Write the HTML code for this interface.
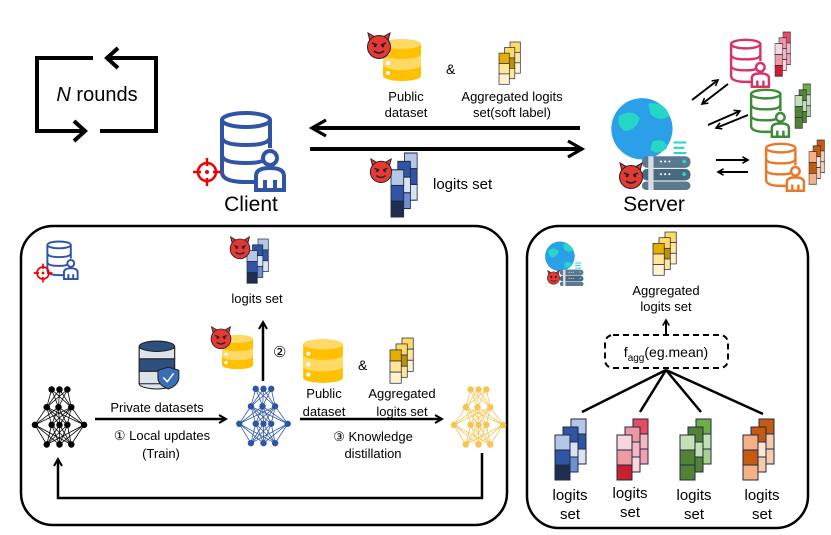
<!DOCTYPE html>
<html><head><meta charset="utf-8"><style>
html,body{margin:0;padding:0;background:#fff}
svg{display:block}
text{font-family:"Liberation Sans",Arial,sans-serif;fill:#000}
.ls{stroke:#1f2a44;stroke-width:1}
</style></head><body>
<svg width="831" height="535" viewBox="0 0 831 535" xmlns="http://www.w3.org/2000/svg">
<defs>
<marker id="ah" viewBox="0 0 10 10" refX="8" refY="5" markerWidth="4" markerHeight="4" orient="auto-start-reverse">
<path d="M1,1 L8,5 L1,9" fill="none" stroke="#000" stroke-width="2"/></marker>
<marker id="ahb" viewBox="0 0 10 10" refX="8" refY="5" markerWidth="5" markerHeight="5" orient="auto-start-reverse">
<path d="M1,1 L8,5 L1,9" fill="none" stroke="#000" stroke-width="1.6"/></marker>
<symbol id="stk" viewBox="0 0 32 62" preserveAspectRatio="none" overflow="visible">
<g class="ls">
<rect x="16" y="0" width="15" height="15" style="fill:var(--b1)"/><rect x="16" y="15" width="15" height="15" style="fill:var(--b2)"/><rect x="16" y="30" width="15" height="15" style="fill:var(--b3)"/>
<rect x="8" y="8" width="15" height="15" style="fill:var(--m1)"/><rect x="8" y="23" width="15" height="15" style="fill:var(--m2)"/><rect x="8" y="38" width="15" height="15" style="fill:var(--m3)"/>
<rect x="0" y="16" width="15" height="15" style="fill:var(--c1)"/><rect x="0" y="31" width="15" height="15" style="fill:var(--c2)"/><rect x="0" y="46" width="15" height="15" style="fill:var(--c3)"/>
</g></symbol>
<symbol id="devil" viewBox="0 0 28 28">
<path d="M5,9 L3,1 L10,5 Z M23,9 L25,1 L18,5 Z" fill="#e53935" stroke="#222" stroke-width="1"/>
<circle cx="14" cy="15" r="11.5" fill="#e53935" stroke="#222" stroke-width="1"/>
<path d="M7,11 L12,13 M21,11 L16,13" stroke="#222" stroke-width="1.5"/>
<circle cx="10" cy="14" r="1.3" fill="#222"/><circle cx="18" cy="14" r="1.3" fill="#222"/>
<path d="M9,19 Q14,23 19,19" fill="none" stroke="#222" stroke-width="1.5"/>
</symbol>
<symbol id="gdb" viewBox="0 0 40 44">
<rect x="1" y="6" width="38" height="32" fill="#ffc000"/>
<ellipse cx="20" cy="38" rx="19" ry="5" fill="#ffc000"/>
<ellipse cx="20" cy="27" rx="19" ry="5" fill="#ffd966"/>
<rect x="1" y="16" width="38" height="11" fill="#ffd966"/>
<ellipse cx="20" cy="16" rx="19" ry="5" fill="#ffc000"/>
<ellipse cx="20" cy="6" rx="19" ry="5" fill="#ffd966"/>
<circle cx="6" cy="15" r="2" fill="#fff"/><circle cx="6" cy="25" r="2" fill="#fff"/><circle cx="6" cy="35" r="2" fill="#fff"/>
</symbol>
<symbol id="cdb" viewBox="0 0 70 82">
<g fill="#fff" stroke="currentColor" stroke-width="4">
<path d="M4,10 L4,62 Q4,72 28,72 L40,72"/>
<path d="M52,10 L52,38"/>
<ellipse cx="28" cy="10" rx="24" ry="7"/>
<path d="M4,27 Q4,35 28,35 Q52,35 52,27"/>
<path d="M4,45 Q4,53 28,53 Q40,53 44,51"/>
<circle cx="52" cy="48" r="7"/>
<path d="M38,80 L38,66 Q38,58 52,58 Q66,58 66,66 L66,80 Z"/>
<path d="M47,80 L47,70 M57,80 L57,70"/>
</g></symbol>
<symbol id="tgt" viewBox="0 0 30 30">
<g stroke="#e00" stroke-width="2.5" fill="none"><circle cx="15" cy="15" r="9"/><path d="M15,1 L15,9 M15,21 L15,29 M1,15 L9,15 M21,15 L29,15"/></g>
<circle cx="15" cy="15" r="2" fill="#e00"/></symbol>
<symbol id="srv" viewBox="0 0 80 90">
<circle cx="30" cy="32" r="29" fill="#2ba0e8"/>
<path d="M8,20 Q20,12 28,22 Q24,34 14,34 Q6,30 8,20Z M36,8 Q52,6 56,20 Q46,26 38,18Z M40,44 Q52,40 54,50 Q46,58 38,52Z" fill="#26d6c6"/>
<path d="M60,45 h12 M60,50 h10 M60,55 h12" stroke="#26d6c6" stroke-width="2"/>
<rect x="30" y="58" width="46" height="11" rx="5" fill="#5a7890"/>
<rect x="30" y="70" width="46" height="11" rx="5" fill="#4a687f"/>
<rect x="30" y="82" width="46" height="8" rx="4" fill="#5a7890"/>
<rect x="36" y="58" width="5" height="32" fill="#d8dde2"/>
<g fill="#fff"><circle cx="48" cy="63" r="1"/><circle cx="52" cy="63" r="1"/><circle cx="56" cy="63" r="1"/><circle cx="48" cy="75" r="1"/><circle cx="52" cy="75" r="1"/><circle cx="56" cy="75" r="1"/></g>
<g fill="#26d6c6"><circle cx="70" cy="63" r="1.8"/><circle cx="70" cy="75" r="1.8"/></g>
</symbol>
<symbol id="pdb" viewBox="0 0 40 48">
<g stroke="#222" stroke-width="1">
<rect x="1" y="6" width="34" height="36" fill="#2f4f80"/>
<ellipse cx="18" cy="42" rx="17" ry="5" fill="#dde3ea"/>
<rect x="1" y="30" width="34" height="12" fill="#dde3ea"/>
<rect x="1" y="18" width="34" height="12" fill="#2f4f80"/>
<rect x="1" y="8" width="34" height="10" fill="#dde3ea"/>
<ellipse cx="18" cy="6" rx="17" ry="5" fill="#2f4f80"/>
<path d="M29,26 L39,29 L39,37 Q38,44 29,47 Q20,44 19,37 L19,29Z" fill="#3a6fb8"/>
</g>
<path d="M24,36 L28,40 L34,32" fill="none" stroke="#fff" stroke-width="1.5"/>
</symbol>
</defs>

<!-- N rounds -->
<g fill="none" stroke="#000" stroke-width="4">
<path d="M93,58 L37,58 L37,131 L84,131"/><path d="M74,121 L85,131 L74,141"/>
<path d="M107,58 L156,58 L156,131 L100,131"/><path d="M118,48 L107,58 L118,68"/>
</g>
<text x="97" y="101" font-size="20" text-anchor="middle"><tspan font-style="italic">N</tspan> rounds</text>

<!-- Client -->
<use href="#cdb" x="218" y="110" width="70" height="82" style="color:#2f55a4"/>
<use href="#tgt" x="192" y="157" width="30" height="30"/>
<text x="251" y="211" font-size="21" text-anchor="middle">Client</text>

<!-- main arrows -->
<line x1="580" y1="128" x2="312" y2="128" stroke="#000" stroke-width="4" marker-end="url(#ahb)"/>
<line x1="310" y1="149" x2="582" y2="149" stroke="#000" stroke-width="4" marker-end="url(#ahb)"/>

<use href="#gdb" x="382" y="38" width="40" height="44"/>
<use href="#devil" x="365" y="32" width="28" height="28"/>
<text x="446" y="74" font-size="14">&amp;</text>
<use href="#stk" x="499" y="42" width="22" height="43" style="--b1:#ffd966;--b2:#ffe699;--b3:#fff2cc;--m1:#ffd966;--m2:#bf9000;--m3:#ffe699;--c1:#e6ac00;--c2:#ffe699;--c3:#fff2cc"/>
<text x="406" y="101" font-size="13" text-anchor="middle">Public</text>
<text x="406" y="117" font-size="13" text-anchor="middle">dataset</text>
<text x="512" y="101" font-size="13" text-anchor="middle">Aggregated logits</text>
<text x="512" y="117" font-size="13" text-anchor="middle">set(soft label)</text>

<use href="#stk" x="391" y="153" width="27" height="65" style="--b1:#b4c7e7;--b2:#2f55a4;--b3:#dae3f3;--m1:#2f55a4;--m2:#dae3f3;--m3:#6f8fcf;--c1:#b4c7e7;--c2:#2f55a4;--c3:#1f2d4f"/>
<use href="#devil" x="368" y="158" width="26" height="26"/>
<text x="433" y="189" font-size="15">logits set</text>

<!-- Server -->
<use href="#srv" x="605" y="95" width="95" height="95"/>
<use href="#devil" x="617" y="162" width="28" height="28"/>
<text x="654" y="211" font-size="21" text-anchor="middle">Server</text>

<!-- right clients -->
<use href="#cdb" x="728" y="38" width="44" height="50" style="color:#d6336c"/>
<use href="#stk" x="775" y="32" width="16" height="45" style="--b1:#e84c61;--b2:#f4b6c0;--b3:#f0a0ae;--m1:#ef97a5;--m2:#f4b6c0;--m3:#f8d7dc;--c1:#f8d7dc;--c2:#ee9aa5;--c3:#c8202f"/>
<use href="#cdb" x="748" y="88" width="44" height="50" style="color:#3d8b37"/>
<use href="#stk" x="795" y="84" width="16" height="45" style="--b1:#70ad47;--b2:#c5e0b4;--b3:#a9d18e;--m1:#548235;--m2:#c5e0b4;--m3:#548235;--c1:#c5e0b4;--c2:#548235;--c3:#548235"/>
<use href="#cdb" x="763" y="142" width="44" height="50" style="color:#e8782a"/>
<use href="#stk" x="809" y="140" width="16" height="45" style="--b1:#c55a11;--b2:#f8cbad;--b3:#f8cbad;--m1:#c55a11;--m2:#fbe5d6;--m3:#f8cbad;--c1:#f4b183;--c2:#c55a11;--c3:#f4b183"/>
<g stroke="#000" stroke-width="2" marker-end="url(#ah)">
<line x1="692" y1="100" x2="718" y2="80"/><line x1="728" y1="84" x2="702" y2="104"/>
<line x1="708" y1="125" x2="740" y2="111"/><line x1="748" y1="115" x2="716" y2="128"/>
<line x1="716" y1="160" x2="748" y2="160"/><line x1="748" y1="172" x2="718" y2="172"/>
</g>

<!-- left panel -->
<rect x="21" y="226" width="486" height="299" rx="32" fill="none" stroke="#000" stroke-width="2.5"/>
<use href="#cdb" x="45" y="240" width="35" height="40" style="color:#2f55a4"/>
<use href="#tgt" x="33" y="263" width="20" height="20"/>
<use href="#stk" x="247" y="239" width="22" height="45" style="--b1:#b4c7e7;--b2:#2f55a4;--b3:#dae3f3;--m1:#2f55a4;--m2:#dae3f3;--m3:#6f8fcf;--c1:#b4c7e7;--c2:#2f55a4;--c3:#1f2d4f"/>
<use href="#devil" x="228" y="236" width="24" height="24"/>
<text x="257" y="303" font-size="13" text-anchor="middle">logits set</text>
<line x1="263" y1="381" x2="263" y2="322" stroke="#000" stroke-width="2.5" marker-end="url(#ah)"/>
<text x="273" y="357" font-size="15">②</text>
<use href="#gdb" x="221" y="334" width="33" height="36"/>
<use href="#devil" x="209" y="326" width="24" height="24"/>
<use href="#pdb" x="138" y="340" width="42" height="50"/>

<use href="#nn" x="32" y="385" width="55" height="65" style="color:#000"/>
<use href="#nn" x="236" y="385" width="55" height="63" style="color:#2f55a4"/>
<use href="#nn" x="451" y="385" width="55" height="65" style="color:#f6c554"/>

<line x1="95" y1="419" x2="226" y2="419" stroke="#000" stroke-width="2.5" marker-end="url(#ah)"/>
<text x="157" y="412" font-size="13" text-anchor="middle">Private datasets</text>
<text x="162" y="440" font-size="13" text-anchor="middle">① Local updates</text>
<text x="161" y="458" font-size="13" text-anchor="middle">(Train)</text>

<use href="#gdb" x="300" y="338" width="46" height="46"/>
<text x="358" y="370" font-size="14">&amp;</text>
<use href="#stk" x="390" y="338" width="24" height="46" style="--b1:#ffd966;--b2:#ffe699;--b3:#fff2cc;--m1:#ffd966;--m2:#bf9000;--m3:#ffe699;--c1:#e6ac00;--c2:#ffe699;--c3:#fff2cc"/>
<text x="324" y="398" font-size="13" text-anchor="middle">Public</text>
<text x="324" y="416" font-size="13" text-anchor="middle">dataset</text>
<text x="402" y="398" font-size="13" text-anchor="middle">Aggregated</text>
<text x="402" y="416" font-size="13" text-anchor="middle">logits set</text>
<line x1="300" y1="419" x2="442" y2="419" stroke="#000" stroke-width="2.5" marker-end="url(#ah)"/>
<text x="373" y="441" font-size="13" text-anchor="middle">③ Knowledge</text>
<text x="373" y="458" font-size="13" text-anchor="middle">distillation</text>
<path d="M482,453 L482,498 L58,498 L58,459" fill="none" stroke="#000" stroke-width="2.5" marker-end="url(#ah)"/>

<!-- right panel -->
<rect x="527" y="226" width="281" height="302" rx="32" fill="none" stroke="#000" stroke-width="2.5"/>
<use href="#srv" x="542" y="240" width="46" height="46"/>
<use href="#devil" x="546" y="270" width="15" height="15"/>
<use href="#stk" x="653" y="232" width="24" height="44" style="--b1:#ffd966;--b2:#ffe699;--b3:#fff2cc;--m1:#ffd966;--m2:#bf9000;--m3:#ffe699;--c1:#e6ac00;--c2:#ffe699;--c3:#fff2cc"/>
<text x="666" y="295" font-size="13" text-anchor="middle">Aggregated</text>
<text x="666" y="311" font-size="13" text-anchor="middle">logits set</text>
<line x1="666" y1="334" x2="666" y2="320" stroke="#000" stroke-width="2" marker-end="url(#ah)"/>
<rect x="605" y="335" width="123" height="33" rx="8" fill="none" stroke="#000" stroke-width="2" stroke-dasharray="6,4"/>
<text x="666" y="357" font-size="14" text-anchor="middle">f<tspan font-size="10" dy="4">agg</tspan><tspan dy="-4">(eg.mean)</tspan></text>
<g stroke="#000" stroke-width="2.5">
<line x1="666" y1="370" x2="582" y2="412"/><line x1="666" y1="370" x2="640" y2="412"/>
<line x1="666" y1="370" x2="701" y2="412"/><line x1="666" y1="370" x2="763" y2="414"/>
</g>
<use href="#stk" x="555" y="419" width="32" height="62" style="--b1:#b4c7e7;--b2:#2f55a4;--b3:#dae3f3;--m1:#2f55a4;--m2:#dae3f3;--m3:#6f8fcf;--c1:#b4c7e7;--c2:#2f55a4;--c3:#1f2d4f"/>
<use href="#stk" x="617" y="419" width="32" height="62" style="--b1:#e84c61;--b2:#f4b6c0;--b3:#f0a0ae;--m1:#ef97a5;--m2:#f4b6c0;--m3:#f8d7dc;--c1:#f8d7dc;--c2:#ee9aa5;--c3:#c8202f"/>
<use href="#stk" x="680" y="419" width="32" height="62" style="--b1:#70ad47;--b2:#c5e0b4;--b3:#a9d18e;--m1:#548235;--m2:#c5e0b4;--m3:#548235;--c1:#c5e0b4;--c2:#548235;--c3:#548235"/>
<use href="#stk" x="743" y="419" width="32" height="62" style="--b1:#c55a11;--b2:#f8cbad;--b3:#f8cbad;--m1:#c55a11;--m2:#fbe5d6;--m3:#f8cbad;--c1:#f4b183;--c2:#c55a11;--c3:#f4b183"/>
<g font-size="15" text-anchor="middle">
<text x="570" y="500">logits</text><text x="570" y="519">set</text>
<text x="630" y="498">logits</text><text x="630" y="517">set</text>
<text x="694" y="500">logits</text><text x="694" y="519">set</text>
<text x="762" y="500">logits</text><text x="762" y="519">set</text>
</g>
</svg>
<script>
(function(){
var ns="http://www.w3.org/2000/svg";
var rows=[[17,25,33],[12,24,37],[0,17,25,33,50],[12,25,37]];
var ys=[4,22,40,60];
var s=document.createElementNS(ns,"symbol");
s.setAttribute("id","nn");s.setAttribute("viewBox","-3 0 56 65");s.setAttribute("overflow","visible");
var h="";
for(var r=0;r<3;r++)for(var i=0;i<rows[r].length;i++)for(var j=0;j<rows[r+1].length;j++)
h+='<line x1="'+rows[r][i]+'" y1="'+ys[r]+'" x2="'+rows[r+1][j]+'" y2="'+ys[r+1]+'" stroke="currentColor" stroke-width="0.8"/>';
for(var r=0;r<4;r++)for(var i=0;i<rows[r].length;i++)
h+='<circle cx="'+rows[r][i]+'" cy="'+ys[r]+'" r="3.3" fill="currentColor"/>';
s.innerHTML=h;
document.querySelector("defs").appendChild(s);
})();
</script>
</body></html>
